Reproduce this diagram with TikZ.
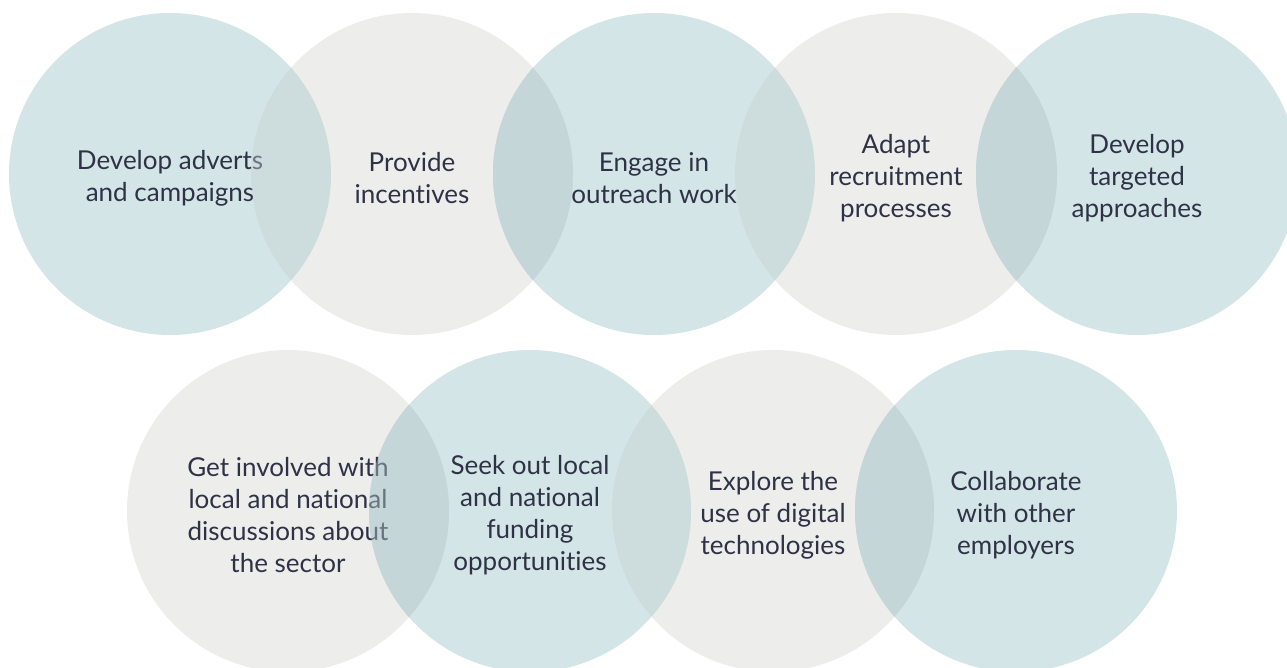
\documentclass[tikz,border=0pt]{standalone}
\usepackage{fontspec}
\setmainfont{Lato}[Ligatures=NoCommon]
\definecolor{tealtint}{RGB}{211,229,231}
\definecolor{stonetint}{RGB}{237,237,235}
\definecolor{lenslight}{RGB}{205,220,221}
\definecolor{lensdark}{RGB}{196,214,215}
\definecolor{ink}{RGB}{47,50,70}
\tikzset{
  disc/.style={circle, minimum size=322pt, inner sep=0pt, draw=none},
  teal disc/.style={disc, fill=tealtint},
  stone disc/.style={disc, fill=stonetint},
  caption/.style={text=ink, align=center, inner sep=0pt,
    font=\fontsize{26}{32}\selectfont},
  veil/.style={fill opacity=0.4},
}
% overlap of two discs: \lens{first}{second}{colour}{extra options}
\newcommand{\lens}[4]{%
  \begin{scope}
    \clip (#1.center) circle[radius=161];
    \fill[#3,#4] (#2.center) circle[radius=161];
  \end{scope}}
\begin{document}
\begin{tikzpicture}[x=1pt,y=-1pt]
\useasboundingbox (0,0) rectangle (1287,668);
\clip (0,0) rectangle (1287,668);

% discs, top row
\node[teal disc]  (c1) at (170,174) {};
\node[stone disc] (c2) at (412,174) {};
\node[teal disc]  (c3) at (654,174) {};
\node[stone disc] (c4) at (896,174) {};
\node[teal disc]  (c5) at (1137,174) {};
% discs, bottom row
\node[stone disc] (c6) at (288,511) {};
\node[teal disc]  (c7) at (530,511) {};
\node[stone disc] (c8) at (773,511) {};
\node[teal disc]  (c9) at (1016,511) {};

% overlaps
\lens{c1}{c2}{lenslight}{}
\lens{c2}{c3}{lensdark}{}
\lens{c3}{c4}{lenslight}{}
\lens{c4}{c5}{lensdark}{}
\lens{c6}{c7}{lensdark}{}
\lens{c7}{c8}{lenslight}{}
\lens{c8}{c9}{lensdark}{}

% captions; each overlap is veiled again after the caption to its left
\node[caption] (t1) at ([yshift=-4]c1.center) {Develop adverts\\and campaigns};
\lens{c1}{c2}{lenslight}{veil}
\node[caption] (t2) at ([yshift=-4]c2.center) {Provide\\incentives};
\lens{c2}{c3}{lensdark}{veil}
\node[caption] (t3) at ([yshift=-4]c3.center) {Engage in\\outreach work};
\lens{c3}{c4}{lenslight}{veil}
\node[caption] (t4) at ([yshift=-4]c4.center) {Adapt\\recruitment\\processes};
\lens{c4}{c5}{lensdark}{veil}
\node[caption] (t5) at ([yshift=-4]c5.center) {Develop\\targeted\\approaches};

\node[caption] (t6) at ([yshift=-4]c6.center) {Get involved with\\local and national\\discussions about\\the sector};
\lens{c6}{c7}{lensdark}{veil}
\node[caption] (t7) at ([yshift=-4]c7.center) {Seek out local\\and national\\funding\\opportunities};
\lens{c7}{c8}{lenslight}{veil}
\node[caption] (t8) at ([yshift=-4]c8.center) {Explore the\\use of digital\\technologies};
\lens{c8}{c9}{lensdark}{veil}
\node[caption] (t9) at ([yshift=-4]c9.center) {Collaborate\\with other\\employers};
\end{tikzpicture}
\end{document}
